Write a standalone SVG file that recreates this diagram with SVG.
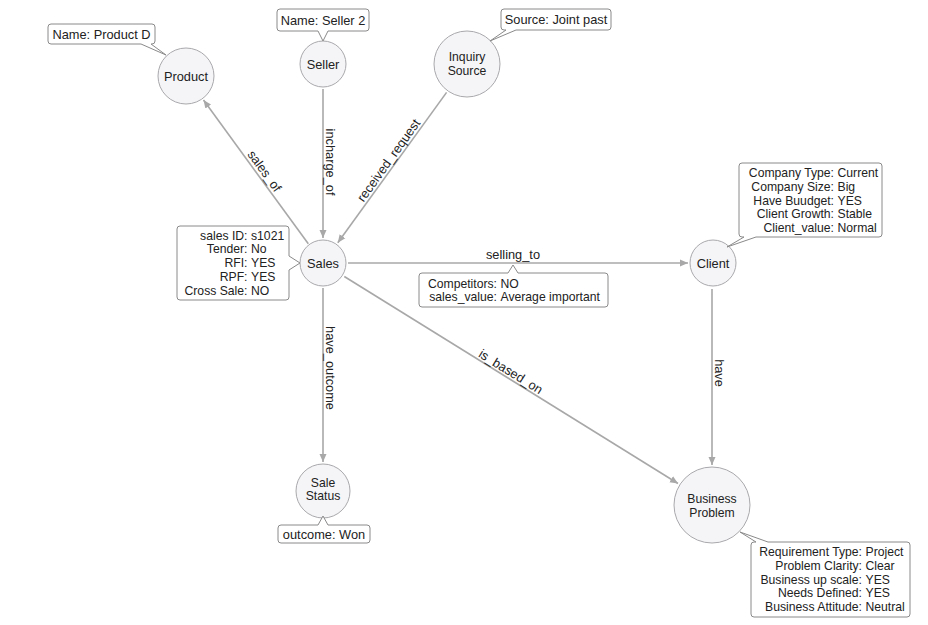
<svg xmlns="http://www.w3.org/2000/svg" width="928" height="625" viewBox="0 0 928 625">
<style>
text{font-family:"Liberation Sans",Arial,sans-serif;font-size:12.8px;fill:#222}
text.m{font-size:12.2px}
.node{fill:#f5f5f7;stroke:#a9a9ad;stroke-width:1}
.lbl{text-anchor:middle}
.edge{stroke:#a8a8a8;stroke-width:1.6;fill:none;marker-end:url(#arr)}
.tip{fill:#fff;stroke:#8a8a8a;stroke-width:1}
.k{text-anchor:end}
.v{text-anchor:start}
</style>
<defs>
<marker id="arr" markerWidth="9" markerHeight="8" refX="8" refY="4" orient="auto" markerUnits="userSpaceOnUse">
<path d="M0,0.5 L8,4 L0,7.5 Z" fill="#a8a8a8"/>
</marker>
</defs>
<g id="connectors">
<line class="edge" x1="308.3" y1="243.8" x2="203.5" y2="100"/>
<line class="edge" x1="323" y1="89" x2="323" y2="238"/>
<line class="edge" x1="446.6" y1="92.4" x2="337.8" y2="242.7"/>
<line class="edge" x1="348" y1="263" x2="688" y2="263"/>
<line class="edge" x1="323" y1="288" x2="323" y2="462"/>
<line class="edge" x1="344.3" y1="276.5" x2="678" y2="483.5"/>
<line class="edge" x1="712" y1="289" x2="712" y2="465"/>
<text class="lbl" transform="translate(258.5,175.4) rotate(53.9)" y="-3">sales_of</text>
<text class="lbl" transform="translate(323,162) rotate(90)" y="-3">incharge_of</text>
<text class="lbl" transform="translate(394.6,164.7) rotate(-54.3)" y="-3">received_request</text>
<text class="lbl" x="513" y="258.5">selling_to</text>
<text class="lbl" transform="translate(323,368) rotate(90)" y="-3">have_outcome</text>
<text class="lbl" transform="translate(506.9,378) rotate(31.8)" y="-3">is_based_on</text>
<text class="lbl" transform="translate(712,373) rotate(90)" y="-3">have</text>
<path class="tip" d="M422,273 H508 L513,265 L518,273 H605 Q608,273 608,276 V304 Q608,307 605,307 H422 Q419,307 419,304 V276 Q419,273 422,273 Z"/>
<text class="m"><tspan class="k" x="497" y="287.5">Competitors:</tspan><tspan class="v" x="500.5" y="287.5">NO</tspan><tspan class="k" x="497" y="301.3">sales_value:</tspan><tspan class="v" x="500.5" y="301.3">Average important</tspan></text>
</g>
<g id="product">
<circle class="node" cx="186" cy="76" r="28"/>
<text class="lbl" x="186" y="80.5">Product</text>
<path class="tip" d="M51,24 H152 Q155,24 155,27 V41 Q155,44 152,44 H151 L166,55 L141,44 H51 Q48,44 48,41 V27 Q48,24 51,24 Z"/>
<text class="lbl" x="101.5" y="38.5">Name: Product D</text>
</g>
<g id="seller">
<circle class="node" cx="323" cy="64" r="23"/>
<text class="lbl" x="323" y="68.5">Seller</text>
<path class="tip" d="M280,9 H366 Q369,9 369,12 V28 Q369,31 366,31 H328 L323,41 L318,31 H280 Q277,31 277,28 V12 Q277,9 280,9 Z"/>
<text class="lbl" x="323" y="25">Name: Seller 2</text>
</g>
<g id="inquiry-source">
<circle class="node" cx="467" cy="64" r="33"/>
<text class="lbl m"><tspan x="467" y="61">Inquiry</tspan><tspan x="467" y="74.8">Source</tspan></text>
<path class="tip" d="M504,9 H608 Q611,9 611,12 V27 Q611,30 608,30 H516 L490,41 L506,30 H504 Q501,30 501,27 V12 Q501,9 504,9 Z"/>
<text class="lbl" x="556" y="24">Source: Joint past</text>
</g>
<g id="sales">
<circle class="node" cx="323" cy="263" r="23"/>
<text class="lbl" x="323" y="267.5">Sales</text>
<path class="tip" d="M180,226 H286 Q289,226 289,229 V256 L300,263 L289,270 V297 Q289,300 286,300 H180 Q177,300 177,297 V229 Q177,226 180,226 Z"/>
<text class="m"><tspan class="k" x="247.5" y="239.5">sales ID:</tspan><tspan class="v" x="251" y="239.5">s1021</tspan><tspan class="k" x="247.5" y="253.3">Tender:</tspan><tspan class="v" x="251" y="253.3">No</tspan><tspan class="k" x="247.5" y="267.1">RFI:</tspan><tspan class="v" x="251" y="267.1">YES</tspan><tspan class="k" x="247.5" y="280.9">RPF:</tspan><tspan class="v" x="251" y="280.9">YES</tspan><tspan class="k" x="247.5" y="294.7">Cross Sale:</tspan><tspan class="v" x="251" y="294.7">NO</tspan></text>
</g>
<g id="client">
<circle class="node" cx="713" cy="263" r="23"/>
<text class="lbl" x="713" y="267.5">Client</text>
<path class="tip" d="M742,163 H879 Q882,163 882,166 V234 Q882,237 879,237 H756 L727,247 L744,237 H742 Q739,237 739,234 V166 Q739,163 742,163 Z"/>
<text class="m"><tspan class="k" x="834" y="177">Company Type:</tspan><tspan class="v" x="837.5" y="177">Current</tspan><tspan class="k" x="834" y="190.8">Company Size:</tspan><tspan class="v" x="837.5" y="190.8">Big</tspan><tspan class="k" x="834" y="204.6">Have Buudget:</tspan><tspan class="v" x="837.5" y="204.6">YES</tspan><tspan class="k" x="834" y="218.4">Client Growth:</tspan><tspan class="v" x="837.5" y="218.4">Stable</tspan><tspan class="k" x="834" y="232.2">Client_value:</tspan><tspan class="v" x="837.5" y="232.2">Normal</tspan></text>
</g>
<g id="sale-status">
<circle class="node" cx="323" cy="491" r="27"/>
<text class="lbl m"><tspan x="323" y="486.5">Sale</tspan><tspan x="323" y="500.3">Status</tspan></text>
<path class="tip" d="M281,525 H318 L323,516 L328,525 H367 Q370,525 370,528 V540 Q370,543 367,543 H281 Q278,543 278,540 V528 Q278,525 281,525 Z"/>
<text class="lbl" x="324" y="539">outcome: Won</text>
</g>
<g id="business-problem">
<circle class="node" cx="712" cy="505" r="38"/>
<text class="lbl m"><tspan x="712" y="503">Business</tspan><tspan x="712" y="516.8">Problem</tspan></text>
<path class="tip" d="M754,542 H756 L740,532 L768,542 H907 Q910,542 910,545 V614 Q910,617 907,617 H754 Q751,617 751,614 V545 Q751,542 754,542 Z"/>
<text class="m"><tspan class="k" x="862" y="556">Requirement Type:</tspan><tspan class="v" x="865.5" y="556">Project</tspan><tspan class="k" x="862" y="569.8">Problem Clarity:</tspan><tspan class="v" x="865.5" y="569.8">Clear</tspan><tspan class="k" x="862" y="583.6">Business up scale:</tspan><tspan class="v" x="865.5" y="583.6">YES</tspan><tspan class="k" x="862" y="597.4">Needs Defined:</tspan><tspan class="v" x="865.5" y="597.4">YES</tspan><tspan class="k" x="862" y="611.2">Business Attitude:</tspan><tspan class="v" x="865.5" y="611.2">Neutral</tspan></text>
</g>
</svg>
